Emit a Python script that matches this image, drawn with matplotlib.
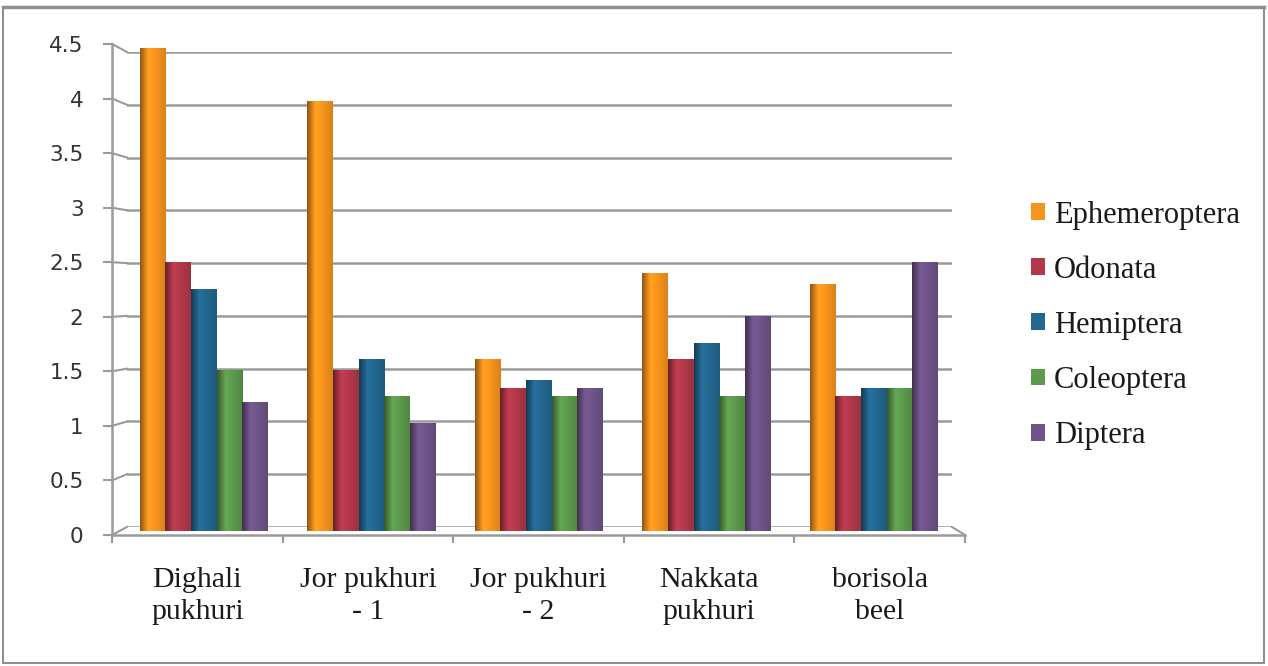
import numpy as np
import matplotlib.pyplot as plt
from matplotlib.lines import Line2D
from matplotlib.patches import Patch, Rectangle
import matplotlib.colors as mcolors

# data
sites = ["Dighali\npukhuri", "Jor pukhuri\n- 1", "Jor pukhuri\n- 2",
         "Nakkata\npukhuri", "borisola\nbeel"]
orders = ["Ephemeroptera", "Odonata", "Hemiptera", "Coleoptera", "Diptera"]
ephemeroptera = [4.5, 4.0, 1.6, 2.4, 2.3]
odonata = [2.5, 1.5, 1.33, 1.6, 1.25]
hemiptera = [2.25, 1.6, 1.4, 1.75, 1.33]
coleoptera = [1.5, 1.25, 1.25, 1.25, 1.33]
diptera = [1.2, 1.0, 1.33, 2.0, 2.5]
series = [ephemeroptera, odonata, hemiptera, coleoptera, diptera]
colors = ["#F7941D", "#B3384A", "#236790", "#5C9A4C", "#6F5489"]
y_ticks = [0, 0.5, 1, 1.5, 2, 2.5, 3, 3.5, 4, 4.5]

W, H = 1268, 666
GRID = "#9a9a9a"
SERIF = "Liberation Serif"


def frac(x0, x1, ytop, ybot):
    return [x0 / W, 1 - ybot / H, (x1 - x0) / W, (ybot - ytop) / H]


fig = plt.figure(figsize=(W / 100, H / 100), dpi=100)

# front axis (pseudo 3d: ticks and labels)
ax_front = fig.add_axes(frac(112, 965, 44, 535))
# back wall (gridlines)
ax = fig.add_axes(frac(127, 952, 52, 527))
# bars sit half way between the front and the back wall
ax_bars = fig.add_axes(frac(119.5, 958.5, 48, 531))

ax.set_xlim(0, 1)
ax.set_ylim(0, 4.5)
ax.set_yticks(y_ticks)
ax.set_xticks([])
ax.tick_params(axis="y", length=0, labelleft=False)
ax.grid(axis="y", color=GRID, lw=1.8)
for s in ax.spines.values():
    s.set_visible(False)
ax.patch.set_visible(False)

# bars with a cylinder-ish shading
bw = 0.153
prof = np.concatenate([np.linspace(0.6, 1.08, 7), np.linspace(1.08, 0.88, 13)])
for j, (vals, c) in enumerate(zip(series, colors)):
    base = np.array(mcolors.to_rgb(c))
    rgb = np.clip(base[None, :] * prof[:, None], 0, 1)[None, :, :]
    for i, v in enumerate(vals):
        x0 = i + (j - 2.5) * bw
        ax_bars.imshow(rgb, extent=(x0, x0 + bw, 0, v), aspect="auto",
                       interpolation="bilinear", zorder=3)
ax_bars.set_xlim(-0.504, 4.505)
ax_bars.set_ylim(0, 4.5)
ax_bars.axis("off")

# front axis styling
ax_front.set_xlim(0, 5)
ax_front.set_ylim(0, 4.5)
ax_front.patch.set_visible(False)
for k in ["top", "right"]:
    ax_front.spines[k].set_visible(False)
for k in ["left", "bottom"]:
    ax_front.spines[k].set_color(GRID)
    ax_front.spines[k].set_linewidth(1.8)
ax_front.set_yticks(y_ticks)
ax_front.set_yticklabels([f"{t:g}" for t in y_ticks], fontsize=15.5,
                         family="DejaVu Sans", color="#333333")
ax_front.tick_params(axis="y", direction="out", length=6.5, width=1.5,
                     color=GRID, pad=14)
ax_front.set_xticks(np.arange(6))
ax_front.set_xticklabels([])
ax_front.tick_params(axis="x", which="major", direction="out", length=6,
                     width=1.5, color=GRID)
ax_front.set_xticks(np.arange(5) + 0.5, labels=sites, minor=True)
ax_front.tick_params(axis="x", which="minor", length=0, pad=23)
for lab in ax_front.get_xticklabels(minor=True):
    lab.set_fontfamily(SERIF)
    lab.set_fontsize(21.5)
    lab.set_linespacing(1.32)
    lab.set_color("#1a1a1a")

# slanted connectors from front ticks to the back wall
inv = fig.transFigure.inverted()
for v in y_ticks:
    pf = inv.transform(ax_front.transData.transform((0, v)))
    pb = inv.transform(ax.transData.transform((0, v)))
    fig.add_artist(Line2D([pf[0], pb[0]], [pf[1], pb[1]], color=GRID,
                          lw=1.5, transform=fig.transFigure))
pf = inv.transform(ax_front.transData.transform((5, 0)))
pb = inv.transform(ax.transData.transform((1, 0)))
fig.add_artist(Line2D([pb[0], pf[0]], [pb[1], pf[1]], color=GRID,
                      lw=1.5, transform=fig.transFigure))

# legend
handles = [Patch(facecolor=c, edgecolor="none") for c in colors]
fig.legend(handles, orders, loc="upper left",
           bbox_to_anchor=(1003 / W, 1 - 173 / H), frameon=False,
           prop={"family": SERIF, "size": 22}, handlelength=0.47,
           handleheight=0.47, handletextpad=0.3, labelspacing=0.855,
           labelcolor="#1a1a1a")

# outer border
fig.add_artist(Rectangle((3 / W, 1 - 663 / H), 1261 / W, 656 / H,
                         transform=fig.transFigure, fill=False,
                         ec="#8f8f8f", lw=1.5))
fig.add_artist(Line2D([3 / W, 1264 / W], [1 - 7 / H, 1 - 7 / H],
                      color="#8f8f8f", lw=2.5, transform=fig.transFigure))

fig.savefig("out.png", dpi=100)
